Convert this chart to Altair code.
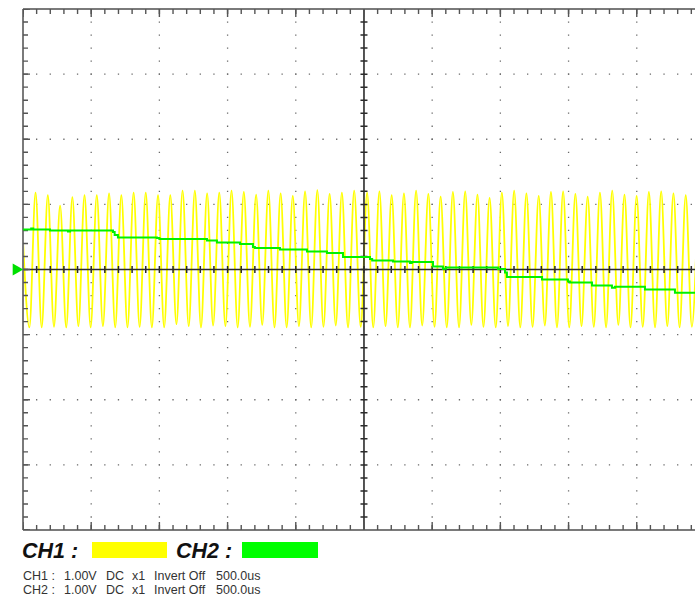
import altair as alt
import pandas as pd

# ---------------- data (time in microseconds from left edge, volts; 1 V = 1 division) -------------
ch1_start_t = [0]
ch1_start_v = [0.45]
ch1_peak_t = [92, 182, 272, 362, 451, 541, 631, 721, 811, 900, 990, 1080, 1170, 1260, 1350, 1439,
              1529, 1619, 1709, 1799, 1889, 1978, 2068, 2158, 2248, 2338, 2428, 2523, 2613, 2703,
              2793, 2882, 2972, 3062, 3152, 3242, 3332, 3421, 3511, 3601, 3691, 3781, 3871, 3960,
              4050, 4140, 4230, 4320, 4410, 4499, 4589, 4679, 4769, 4859, 4949]
ch1_peak_v = [1.18, 1.14, 0.98, 1.11, 1.14, 1.14, 1.17, 1.14, 1.18, 1.18, 1.14, 1.14, 1.21, 1.21,
              1.17, 1.18, 1.21, 1.19, 1.15, 1.21, 1.17, 1.13, 1.20, 1.22, 1.16, 1.18, 1.21, 1.18,
              1.20, 1.14, 1.17, 1.21, 1.16, 1.12, 1.19, 1.20, 1.15, 1.10, 1.18, 1.21, 1.17, 1.13,
              1.19, 1.20, 1.16, 1.12, 1.18, 1.21, 1.15, 1.13, 1.19, 1.20, 1.17, 1.14, 1.19]
ch1_trough_t = [47, 137, 227, 317, 406, 496, 586, 676, 766, 855, 945, 1035, 1125, 1215, 1305, 1394,
                1484, 1574, 1664, 1754, 1844, 1933, 2023, 2113, 2203, 2293, 2383, 2476, 2568, 2658,
                2748, 2837, 2927, 3017, 3107, 3197, 3287, 3376, 3466, 3556, 3646, 3736, 3826, 3915,
                4005, 4095, 4185, 4275, 4365, 4454, 4544, 4634, 4724, 4814, 4904]
ch1_trough_v = [-0.89, -0.89, -0.88, -0.89, -0.87, -0.89, -0.87, -0.89, -0.89, -0.88,
                -0.89, -0.89, -0.84, -0.87, -0.89, -0.86, -0.87, -0.89, -0.88, -0.85,
                -0.89, -0.89, -0.87, -0.89, -0.88, -0.86, -0.89, -0.88, -0.89, -0.87,
                -0.89, -0.89, -0.86, -0.88, -0.89, -0.89, -0.85, -0.88, -0.89, -0.87,
                -0.89, -0.88, -0.86, -0.89, -0.89, -0.87, -0.88, -0.89, -0.85, -0.89,
                -0.88, -0.89, -0.87, -0.89, -0.88]

ch2_t = [0, 60, 75, 198, 330, 345, 660, 672, 696, 982, 1000, 1224, 1349, 1422, 1591, 1686, 1700,
         1884, 2082, 2229, 2346, 2544, 2560, 2713, 2837, 2850, 3006, 3079, 3100, 3482, 3534, 3548,
         3805, 3996, 4010, 4172, 4318, 4340, 4560, 4780, 4927]
ch2_v = [0.614, 0.630, 0.614, 0.599, 0.585, 0.599, 0.576, 0.530, 0.492, 0.484, 0.470, 0.468, 0.445,
         0.415, 0.392, 0.346, 0.330, 0.307, 0.276, 0.253, 0.192, 0.161, 0.140, 0.123, 0.100, 0.115,
         0.046, 0.011, 0.030, 0.008, -0.046, -0.115, -0.154, -0.184, -0.200, -0.246, -0.281, -0.265,
         -0.307, -0.358, -0.369]

grid_t = [500, 1000, 1500, 2000, 3000, 3500, 4000, 4500]
grid_v = [-3, -2, -1, 1, 2, 3]
center_t = 2500
center_v = 0
t_min, t_max = 0, 4927
v_min, v_max = -4, 4

legend_labels = ["CH1 :", "CH2 :"]
info_parts = ["1.00V", "DC", "x1", "Invert Off", "500.0us"]

# ---------------- geometry --------------------------------------------------------------------------
W, H = 672, 521
XS = alt.Scale(domain=[t_min, t_max], nice=False, zero=False)
YS = alt.Scale(domain=[v_min, v_max], nice=False, zero=False)

ch1_df = pd.DataFrame({
    "t": ch1_start_t + ch1_peak_t + ch1_trough_t,
    "v": ch1_start_v + ch1_peak_v + ch1_trough_v,
}).sort_values("t")
ch2_df = pd.DataFrame({"t": ch2_t, "v": ch2_v})
gx_df = pd.DataFrame({"t": grid_t, "v0": v_min, "v1": v_max})
gy_df = pd.DataFrame({"v": grid_v, "t0": t_min, "t1": t_max})
frame_df = pd.DataFrame({"t0": [t_min], "t1": [t_max], "v0": [v_min], "v1": [v_max],
                         "tc": [center_t], "vc": [center_v]})
one = pd.DataFrame({"a": [0]})

STEP_Y = H / 40.0              # 0.2 division vertically
STEP_X = W / (t_max / 100.0)   # 100 us = 0.2 division horizontally


def X(f):
    return alt.X(f, type="quantitative", scale=XS, axis=None)


def Y(f):
    return alt.Y(f, type="quantitative", scale=YS, axis=None)


def vrule(field, **kw):
    return alt.Chart(frame_df).mark_rule(**kw).encode(x=X(field), y=Y("v1"), y2="v0")


def hrule(field, **kw):
    return alt.Chart(frame_df).mark_rule(**kw).encode(y=Y(field), x=X("t0"), x2="t1")


layers = []

# dotted grid
layers.append(alt.Chart(gx_df).mark_rule(color="#6a6a6a", strokeWidth=1.3,
                                         strokeDash=[1.3, STEP_Y - 1.3], strokeDashOffset=0.65)
              .encode(x=X("t"), y=Y("v1"), y2="v0"))
layers.append(alt.Chart(gy_df).mark_rule(color="#6a6a6a", strokeWidth=1.3,
                                         strokeDash=[1.3, STEP_X - 1.3], strokeDashOffset=0.65)
              .encode(y=Y("v"), x=X("t0"), x2="t1"))

# CH1 waveform
layers.append(alt.Chart(ch1_df).mark_line(color="#ffff00", strokeWidth=1.8, clip=True,
                                          interpolate="monotone")
              .encode(x=X("t"), y=Y("v"), order="t"))

# centre cross with ticks
cross = "#2b2b2b"
layers.append(vrule("tc", color=cross, strokeWidth=1.6))
layers.append(hrule("vc", color=cross, strokeWidth=1.6))
layers.append(vrule("tc", color=cross, strokeWidth=7,
                    strokeDash=[1.5, STEP_Y - 1.5], strokeDashOffset=0.75))
layers.append(hrule("vc", color=cross, strokeWidth=7,
                    strokeDash=[1.5, STEP_X - 1.5], strokeDashOffset=0.75))

# frame (left, top, bottom) with inward ticks
frame = "#7a7a7a"
tickc = "#555555"
layers.append(vrule("t0", color=frame, strokeWidth=2))
layers.append(hrule("v1", color=frame, strokeWidth=2))
layers.append(hrule("v0", color=frame, strokeWidth=2))
layers.append(vrule("t0", color=tickc, strokeWidth=5, xOffset=2.5,
                    strokeDash=[1.4, STEP_Y - 1.4], strokeDashOffset=0.7))
layers.append(vrule("t0", color=tickc, strokeWidth=7, xOffset=3.5,
                    strokeDash=[1.4, STEP_Y * 5 - 1.4], strokeDashOffset=0.7))
for fld, off in (("v1", 1), ("v0", -1)):
    layers.append(hrule(fld, color=tickc, strokeWidth=5, yOffset=2.5 * off,
                        strokeDash=[1.4, STEP_X - 1.4], strokeDashOffset=0.7))
    layers.append(hrule(fld, color=tickc, strokeWidth=8, yOffset=4 * off,
                        strokeDash=[1.4, STEP_X * 5 - 1.4], strokeDashOffset=0.7))

# CH2 waveform
layers.append(alt.Chart(ch2_df).mark_line(color="#00f000", strokeWidth=2, interpolate="step-after",
                                          clip=True)
              .encode(x=X("t"), y=Y("v")))

# CH2 ground marker
layers.append(alt.Chart(frame_df).mark_point(shape="triangle-right", filled=True, color="#00e000",
                                             opacity=1, size=150, xOffset=-5)
              .encode(x=X("t0"), y=Y("vc")))

# legend below plot
font = "Liberation Sans"
for lbl, lx in zip(legend_labels, (-1, 153)):
    layers.append(alt.Chart(one).mark_text(text=lbl, font=font, fontSize=21.5, fontWeight="bold",
                                           fontStyle="italic", align="left", baseline="alphabetic",
                                           color="#111111")
                  .encode(x=alt.value(lx), y=alt.value(549)))
for (x1, x2), col in (((69, 144), "#ffff00"), ((219, 295), "#00ff00")):
    layers.append(alt.Chart(one).mark_rect(color=col)
                  .encode(x=alt.value(x1), x2=alt.value(x2), y=alt.value(533), y2=alt.value(549)))

for lbl, by in zip(legend_labels, (570.5, 585)):
    for txt, tx in zip([lbl] + info_parts, (0, 41, 83, 109, 131, 193)):
        layers.append(alt.Chart(one).mark_text(text=txt, font=font, fontSize=12.5, align="left",
                                               baseline="alphabetic", color="#333333")
                      .encode(x=alt.value(tx), y=alt.value(by)))

chart = alt.layer(*layers).properties(
    width=W, height=H,
    padding={"left": 23, "top": 9, "right": 0, "bottom": 68},
    autosize=alt.AutoSizeParams(type="none"),
    background="white",
).configure_view(stroke=None)

chart.save("out.html", embed_options={"renderer": "svg", "actions": False})
